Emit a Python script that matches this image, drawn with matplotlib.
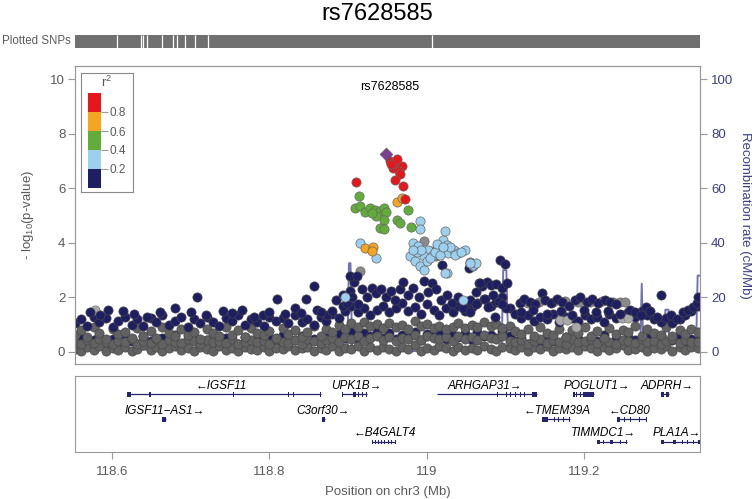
import numpy as np
import matplotlib
matplotlib.use('Agg')
import matplotlib.pyplot as plt

plt.rcParams['font.family'] = ['Liberation Sans', 'DejaVu Sans']
plt.rcParams['mathtext.default'] = 'regular'

lead_snp = 'rs7628585'
lead_pos, lead_logp = 118.948, 7.25

# dense background cloud: at each position the heights of the points seen there
base_x = [118.553, 118.561, 118.568, 118.577, 118.584, 118.592, 118.601, 118.608, 118.616, 118.625,
          118.632, 118.640, 118.649, 118.656, 118.664, 118.673, 118.680, 118.688, 118.697, 118.704,
          118.712, 118.721, 118.728, 118.736, 118.745, 118.752, 118.760, 118.769, 118.776, 118.784,
          118.793, 118.800, 118.808, 118.817, 118.824, 118.832, 118.841, 118.848, 118.856, 118.865,
          118.872, 118.880, 118.889, 118.896, 118.904, 118.913, 118.920, 118.928, 118.937, 118.944,
          118.952, 118.961, 118.968, 118.976, 118.985, 118.992, 119.000, 119.009, 119.016, 119.024,
          119.033, 119.040, 119.048, 119.057, 119.064, 119.072, 119.081, 119.088, 119.096, 119.105,
          119.112, 119.120, 119.129, 119.136, 119.144, 119.153, 119.160, 119.168, 119.177, 119.184,
          119.192, 119.201, 119.208, 119.216, 119.225, 119.232, 119.240, 119.249, 119.256, 119.264,
          119.273, 119.280, 119.288, 119.297, 119.304, 119.312, 119.321, 119.328, 119.336, 119.344]
gray_lo = [0.10, 0.04, 0.18, 0.07, 0.22, 0.03, 0.15, 0.09, 0.20, 0.05,
           0.12, 0.24, 0.06, 0.17, 0.02, 0.13, 0.21, 0.08, 0.16, 0.04,
           0.19, 0.11, 0.03, 0.23, 0.09, 0.14, 0.05, 0.20, 0.12, 0.07,
           0.18, 0.02, 0.15, 0.10, 0.22, 0.06, 0.13, 0.19, 0.04, 0.16,
           0.09, 0.21, 0.05, 0.14, 0.11, 0.23, 0.03, 0.17, 0.08, 0.20,
           0.12, 0.05, 0.18, 0.10, 0.24, 0.03, 0.15, 0.07, 0.21, 0.13,
           0.04, 0.19, 0.09, 0.16, 0.06, 0.22, 0.11, 0.02, 0.18, 0.14,
           0.08, 0.20, 0.05, 0.17, 0.12, 0.23, 0.03, 0.15, 0.10, 0.19,
           0.06, 0.21, 0.13, 0.04, 0.18, 0.09, 0.16, 0.24, 0.07, 0.12,
           0.20, 0.03, 0.14, 0.11, 0.22, 0.05, 0.17, 0.08, 0.19, 0.13]
gray_mid = [0.38, 0.30, 0.45, 0.33, 0.48, 0.36, 0.29, 0.42, 0.35, 0.47,
            0.31, 0.40, 0.34, 0.46, 0.28, 0.43, 0.37, 0.32, 0.49, 0.39,
            0.30, 0.44, 0.36, 0.41, 0.33, 0.47, 0.29, 0.38, 0.45, 0.35,
            0.42, 0.31, 0.48, 0.37, 0.34, 0.43, 0.30, 0.46, 0.39, 0.32,
            0.44, 0.50, 0.38, 0.55, 0.47, 0.60, 0.42, 0.52, 0.58, 0.45,
            0.56, 0.40, 0.53, 0.48, 0.61, 0.43, 0.57, 0.50, 0.46, 0.54,
            0.41, 0.59, 0.49, 0.55, 0.44, 0.62, 0.51, 0.47, 0.58, 0.42,
            0.36, 0.45, 0.31, 0.40, 0.47, 0.33, 0.43, 0.38, 0.29, 0.46,
            0.35, 0.41, 0.48, 0.32, 0.44, 0.37, 0.30, 0.45, 0.39, 0.34,
            0.47, 0.36, 0.42, 0.31, 0.40, 0.46, 0.33, 0.43, 0.38, 0.35]
gray_hi = [0.62, 0.80, 0.55, 0.90, 0.70, 0.48, 0.85, 0.66, 0.75, 0.52,
           0.88, 0.60, 0.78, 0.50, 0.92, 0.68, 0.57, 0.83, 0.64, 0.74,
           0.49, 0.86, 0.71, 0.58, 0.93, 0.63, 0.79, 0.54, 0.87, 0.69,
           0.61, 0.76, 0.51, 0.89, 0.67, 0.82, 0.56, 0.73, 0.94, 0.60,
           0.84, 0.72, 0.98, 0.85, 1.05, 0.90, 1.10, 0.95, 1.02, 0.88,
           1.08, 0.92, 1.00, 0.86, 1.12, 0.94, 1.04, 0.89, 0.97, 0.83,
           0.91, 1.06, 0.87, 0.99, 0.93, 1.10, 0.96, 1.02, 0.88, 0.95,
           0.78, 0.65, 0.84, 0.58, 0.90, 0.71, 0.62, 0.86, 0.55, 0.80,
           0.68, 0.92, 0.60, 0.77, 0.53, 0.88, 0.66, 0.81, 0.72, 0.94,
           0.59, 0.85, 0.70, 0.63, 0.91, 0.57, 0.79, 0.67, 0.86, 0.74]
navy_lo = [0.35, 0.52, 0.28, 0.45, 0.60, 0.32, 0.48, 0.25, 0.55, 0.40,
           0.30, 0.58, 0.42, 0.22, 0.50, 0.36, 0.62, 0.27, 0.46, 0.54,
           0.33, 0.44, 0.59, 0.24, 0.51, 0.38, 0.29, 0.56, 0.41, 0.47,
           0.26, 0.53, 0.37, 0.61, 0.31, 0.43, 0.57, 0.23, 0.49, 0.34,
           0.55, 0.40, 0.65, 0.50, 0.72, 0.45, 0.68, 0.58, 0.75, 0.52,
           0.70, 0.48, 0.63, 0.56, 0.74, 0.44, 0.66, 0.59, 0.71, 0.47,
           0.62, 0.54, 0.69, 0.43, 0.73, 0.57, 0.64, 0.50, 0.76, 0.60,
           0.39, 0.52, 0.28, 0.46, 0.35, 0.58, 0.42, 0.31, 0.55, 0.37,
           0.49, 0.26, 0.53, 0.40, 0.61, 0.33, 0.47, 0.29, 0.56, 0.44,
           0.38, 0.51, 0.27, 0.59, 0.34, 0.45, 0.62, 0.30, 0.48, 0.41]
navy_hi = [1.05, 1.20, 0.95, 1.30, 1.10, 1.25, 0.90, 1.15, 1.30, 1.00,
           1.20, 0.95, 1.25, 1.10, 1.35, 1.00, 1.15, 1.30, 0.90, 1.20,
           1.05, 1.30, 1.10, 0.95, 1.25, 1.15, 1.35, 1.00, 1.20, 1.10,
           0.95, 1.30, 1.15, 1.25, 1.05, 1.35, 1.10, 1.20, 1.00, 1.30,
           1.15, 1.40, 1.25, 1.50, 1.70, 1.45, 1.60, 1.35, 1.55, 1.70,
           1.45, 1.60, 1.80, 1.50, 1.65, 1.40, 1.75, 1.55, 1.35, 1.60,
           1.45, 1.70, 1.50, 1.65, 1.80, 1.95, 1.70, 1.85, 2.00, 1.60,
           1.40, 1.25, 1.35, 1.15, 1.30, 1.20, 1.40, 1.10, 1.30, 1.25,
           1.15, 1.35, 1.20, 1.30, 1.10, 1.40, 1.25, 1.35, 1.45, 1.30,
           1.50, 1.35, 1.20, 1.10, 1.25, 1.05, 1.20, 1.35, 1.50, 1.70]

# scattered points above the cloud, r2 < 0.2
navy_x = [118.572, 118.595, 118.614, 118.661, 118.680, 118.708, 118.741, 118.765, 118.792, 118.809,
          118.833, 118.847, 118.857, 118.860, 118.873, 118.894, 118.902, 118.907, 118.902, 118.585,
          118.628, 118.645, 118.700, 118.720, 118.752, 118.780, 118.800, 118.820, 118.840, 118.865,
          118.880, 118.885, 118.893, 118.898, 118.905, 118.912, 118.918, 118.924, 118.930, 118.936,
          118.942, 118.948, 118.955, 118.960, 118.966, 118.970, 118.976, 118.982, 118.990, 118.996,
          119.002, 119.006, 119.012, 119.018, 119.025, 119.032, 119.040, 119.048, 119.055, 119.062,
          119.066, 119.070, 119.076, 119.082, 119.088, 119.093, 119.099, 119.096, 119.102, 119.084,
          119.074, 119.092, 119.100, 119.046, 119.055, 119.062, 119.078, 119.087, 119.095, 119.118,
          119.124, 119.131, 119.138, 119.146, 119.150, 119.158, 119.165, 119.172, 119.180, 119.188,
          119.195, 119.203, 119.210, 119.218, 119.226, 119.233, 119.240, 119.120, 119.135, 119.152,
          119.170, 119.185, 119.200, 119.215, 119.230, 119.245, 119.258, 119.265, 119.272, 119.278,
          119.284, 119.298, 119.292, 119.310, 119.318, 119.326, 119.332, 119.338, 119.343, 119.345,
          119.019, 118.911, 119.053, 119.068]
navy_y = [1.48, 1.54, 1.51, 1.48, 1.60, 2.00, 1.51, 1.54, 1.36, 1.94,
          1.60, 1.94, 2.43, 1.54, 1.36, 1.67, 2.22, 2.58, 2.77, 1.35,
          1.40, 1.30, 1.45, 1.35, 1.42, 1.30, 1.45, 1.38, 1.42, 1.45,
          1.50, 1.90, 2.10, 1.80, 2.00, 1.75, 2.30, 2.00, 2.35, 2.15,
          2.30, 2.00, 2.25, 1.90, 2.30, 2.55, 2.10, 2.35, 2.00, 2.60,
          2.20, 2.52, 2.30, 1.90, 2.10, 1.80, 2.00, 1.70, 1.90, 2.20,
          2.52, 2.40, 2.55, 2.45, 2.50, 3.38, 3.24, 2.35, 2.52, 2.10,
          1.95, 1.85, 1.60, 1.60, 1.45, 1.75, 1.65, 1.30, 1.75, 1.80,
          1.95, 1.85, 1.75, 2.18, 1.90, 1.80, 1.95, 1.85, 1.70, 1.90,
          2.00, 1.85, 1.95, 1.80, 1.90, 1.85, 1.75, 1.45, 1.55, 1.40,
          1.50, 1.35, 1.55, 1.45, 1.50, 1.40, 1.55, 1.45, 1.35, 1.65,
          1.50, 2.10, 1.30, 1.35, 1.20, 1.45, 1.55, 1.65, 1.80, 2.03,
          3.20, 2.77, 3.07, 2.52]

# no LD information
gray_x = [119.128, 119.142, 119.160, 119.176, 119.192, 119.207, 119.222, 119.236, 119.246, 119.252,
          118.915, 118.996, 118.998, 119.005, 119.012, 119.055]
gray_y = [1.80, 1.85, 1.85, 1.88, 1.85, 1.82, 1.86, 1.84, 1.85, 1.85,
          2.98, 4.06, 3.60, 3.70, 3.50, 3.30]
ltgray_x = [118.578, 119.169, 119.178, 119.248, 119.256, 119.190]
ltgray_y = [1.54, 1.18, 1.18, 1.24, 1.24, 0.93]

# r2 0.2-0.4
lblue_x = [118.915, 118.935, 118.991, 118.991, 118.983, 118.989, 118.979, 118.985, 118.991, 118.996,
           119.002, 119.008, 119.015, 119.021, 119.023, 119.025, 119.027, 119.034, 119.040, 119.049,
           119.055, 119.059, 119.025, 118.996, 119.000, 118.987, 118.993, 119.004, 119.010, 119.013,
           119.017, 119.030, 119.036, 119.044, 118.982, 119.020, 119.058, 119.062, 118.896, 119.046,
           119.055, 119.023]
lblue_y = [4.00, 3.44, 4.79, 4.49, 4.00, 3.87, 3.50, 3.32, 3.14, 3.01,
           3.75, 3.57, 3.75, 4.12, 4.42, 3.93, 3.63, 3.75, 3.63, 3.75,
           3.26, 3.14, 2.89, 3.50, 3.32, 3.65, 3.75, 3.45, 3.65, 3.95,
           3.55, 3.85, 3.55, 3.65, 3.75, 3.85, 3.20, 3.25, 2.02, 1.91,
           3.26, 2.89]

# r2 0.4-0.6
green_x = [118.914, 118.909, 118.915, 118.921, 118.928, 118.934, 118.941, 118.945, 118.948, 118.936,
           118.945, 118.940, 118.946, 118.962, 118.966, 118.980, 118.976, 118.930]
green_y = [5.71, 5.28, 5.34, 5.12, 5.28, 5.22, 5.16, 5.28, 5.12, 4.97,
           4.85, 4.54, 4.52, 4.83, 4.71, 4.58, 5.22, 5.10]

# r2 0.6-0.8
orange_x = [118.962, 118.968, 118.921, 118.931, 118.930]
orange_y = [5.49, 5.65, 3.81, 3.85, 3.69]

# r2 0.8-1
red_x = [118.953, 118.960, 118.968, 118.957, 118.964, 118.966, 118.960, 118.970, 118.972, 118.910,
         118.962, 118.955]
red_y = [7.00, 6.94, 6.81, 6.75, 6.63, 6.51, 6.32, 6.08, 5.59, 6.24,
         7.06, 6.88]

# recombination rate (cM/Mb)
recomb_pos = [118.552, 118.600, 118.650, 118.700, 118.750, 118.800, 118.850, 118.899, 118.901, 118.903,
              118.905, 118.950, 119.000, 119.050, 119.095, 119.097, 119.101, 119.102, 119.104, 119.150,
              119.200, 119.250, 119.271, 119.273, 119.275, 119.302, 119.303, 119.307, 119.308, 119.342,
              119.344, 119.348]
recomb_rate = [0.5, 1.2, 0.8, 1.5, 0.6, 1.0, 1.4, 1.0, 32.5, 32.5,
               1.2, 0.4, 0.3, 0.8, 1.0, 30.0, 30.0, 17.0, 1.0, 0.6,
               1.2, 1.5, 1.0, 25.0, 1.0, 1.2, 15.5, 15.5, 1.0, 1.5,
               28.0, 28.0]

# gaps in the plotted SNPs rug
rug_gaps = [118.606, 118.637, 118.639, 118.644, 118.663, 118.678, 118.683, 118.693, 118.705, 118.722, 119.007]

# genes
gene_names = ['IGSF11', 'UPK1B', 'ARHGAP31', 'POGLUT1', 'ADPRH',
              'IGSF11\u2212AS1', 'C3orf30', 'TMEM39A', 'CD80',
              'B4GALT4', 'TIMMDC1', 'PLA1A']
gene_start = [118.621, 118.892, 119.013, 119.186, 119.298, 118.664, 118.867, 119.146, 119.241, 118.930, 119.216, 119.298]
gene_end = [118.865, 118.924, 119.140, 119.212, 119.307, 118.669, 118.871, 119.182, 119.279, 118.960, 119.254, 119.347]
gene_strand = ['-', '+', '+', '+', '+', '+', '+', '-', '-', '-', '+', '+']
gene_row = [0, 0, 0, 0, 0, 1, 1, 1, 1, 2, 2, 2]
gene_label_x = [118.739, 118.910, 119.074, 119.216, 119.305, 118.667, 118.868, 119.165, 119.258, 118.947, 119.224, 119.318]
gene_exons = [
    [(118.619, 118.624), (118.647, 118.649), (118.754, 118.755), (118.824, 118.825), (118.830, 118.831), (118.864, 118.865)],
    [(118.892, 118.893), (118.906, 118.910), (118.913, 118.914), (118.918, 118.919), (118.923, 118.924)],
    [(119.086, 119.087), (119.089, 119.090), (119.100, 119.102), (119.106, 119.107), (119.112, 119.113),
     (119.118, 119.119), (119.124, 119.125), (119.133, 119.140)],
    [(119.186, 119.188), (119.190, 119.191), (119.195, 119.196), (119.198, 119.212)],
    [(119.298, 119.301), (119.304, 119.307)],
    [(118.664, 118.669)],
    [(118.867, 118.871)],
    [(119.146, 119.154), (119.161, 119.162), (119.167, 119.168), (119.173, 119.174), (119.180, 119.182)],
    [(119.241, 119.245), (119.251, 119.252), (119.258, 119.259), (119.269, 119.270), (119.278, 119.279)],
    [(118.930, 118.931), (118.934, 118.935), (118.938, 118.939), (118.942, 118.943), (118.946, 118.947),
     (118.951, 118.952), (118.955, 118.956), (118.959, 118.960)],
    [(119.216, 119.220), (119.224, 119.225), (119.233, 119.237), (119.246, 119.247), (119.253, 119.254)],
    [(119.298, 119.301), (119.313, 119.317), (119.324, 119.325), (119.330, 119.331), (119.338, 119.339), (119.345, 119.347)],
]

ld_bins = [0.0, 0.2, 0.4, 0.6, 0.8]
ld_colors = ['#1e1e63', '#9dcfee', '#62ad3a', '#f5a520', '#e5171d']
gray_col = '#626262'
ltgray_col = '#a9a9a9'
lead_col = '#7b3f98'
gene_col = '#25256e'
text_gray = '#5a5a5a'
axis_gray = '#9a9a9a'
recomb_col = '#6464aa'

XMIN, XMAX = 118.553, 119.347
W, H = 755, 499


def rect(x0, y0, x1, y1):
    return [x0 / W, 1 - y1 / H, (x1 - x0) / W, (y1 - y0) / H]


fig = plt.figure(figsize=(W / 100, H / 100), dpi=100)
fig.text(0.5, 1 - 14 / H, lead_snp, ha='center', va='center', fontsize=17)

# plotted SNPs rug
sax = fig.add_axes(rect(75, 35, 700, 48))
sax.axvspan(XMIN, XMAX, color='#707070', lw=0)
sax.vlines(rug_gaps, 0, 1, color='white', lw=0.9)
sax.set_xlim(XMIN, XMAX)
sax.set_ylim(0, 1)
sax.axis('off')
fig.text(71 / W, 1 - 41.5 / H, 'Plotted SNPs', ha='right', va='center', fontsize=8.3, color=text_gray)

# association panel
ax = fig.add_axes(rect(75, 66, 700, 364))
ax2 = ax.twinx()
ax.set_zorder(ax2.get_zorder() + 1)
ax.patch.set_visible(False)

ax2.plot(recomb_pos, recomb_rate, color=recomb_col, lw=1.4, alpha=0.9)

pt = dict(s=44, linewidths=0.5)
ax.scatter(base_x, navy_lo, c=ld_colors[0], edgecolors='#444444', **pt)
ax.scatter(base_x, gray_lo, c=gray_col, edgecolors='#4a4a4a', **pt)
ax.scatter(base_x, gray_mid, c=gray_col, edgecolors='#4a4a4a', **pt)
ax.scatter(base_x, gray_hi, c=gray_col, edgecolors='#4a4a4a', **pt)
ax.scatter(base_x, navy_hi, c=ld_colors[0], edgecolors='#444444', **pt)
ax.scatter(ltgray_x, ltgray_y, c=ltgray_col, edgecolors='#777777', **pt)
ax.scatter(gray_x, gray_y, c='#8a8a8a', edgecolors='#666666', **pt)
ax.scatter(navy_x, navy_y, c=ld_colors[0], edgecolors='#444444', **pt)
ax.scatter(lblue_x, lblue_y, c=ld_colors[1], edgecolors='#666666', **pt)
ax.scatter(green_x, green_y, c=ld_colors[2], edgecolors='#666666', **pt)
ax.scatter(orange_x, orange_y, c=ld_colors[3], edgecolors='#666666', **pt)
ax.scatter(red_x, red_y, c=ld_colors[4], edgecolors='#666666', **pt)
ax.scatter([lead_pos], [lead_logp], marker='D', s=42, c=lead_col, edgecolors='#555555', linewidths=0.5)
ax.text(118.953, 9.7, lead_snp, ha='center', va='center', fontsize=9)

ax.set_xlim(XMIN, XMAX)
ax.set_ylim(-0.44, 10.48)
ax.set_xticks([])
ax.set_yticks([0, 2, 4, 6, 8, 10])
ax.tick_params(axis='y', direction='out', length=5, width=0.8, color=axis_gray,
               labelcolor=text_gray, labelsize=9.5, pad=2)
ax.set_ylabel('- log$_{10}$(p-value)', color=text_gray, fontsize=9.5)
ax.yaxis.set_label_coords(-0.062, 0.5)

ax2.set_ylim(-4.4, 104.8)
ax2.set_yticks([0, 20, 40, 60, 80, 100])
ax2.tick_params(axis='y', direction='out', length=5, width=0.8, color=axis_gray,
                labelcolor='#3c3c8c', labelsize=9.5, pad=3)
ax2.set_ylabel('Recombination rate (cM/Mb)', color='#3c3c8c', fontsize=9.5, rotation=270, va='bottom')
for a in (ax, ax2):
    for sp in a.spines.values():
        sp.set_color(axis_gray)
        sp.set_linewidth(0.8)

# r2 legend
lbox = fig.add_axes(rect(81, 73, 133, 192))
lbox.set_xticks([])
lbox.set_yticks([])
for sp in lbox.spines.values():
    sp.set_color('#8a8a8a')
    sp.set_linewidth(0.8)
lbox.text(0.5, 0.92, 'r$^2$', ha='center', va='center', fontsize=9.5, color=text_gray,
          transform=lbox.transAxes)
lax = fig.add_axes(rect(88, 93, 101, 188))
lax.bar(0, 0.2, bottom=ld_bins, color=ld_colors, width=1, align='edge')
lax.set_xlim(0, 1)
lax.set_ylim(0, 1)
lax.set_xticks([])
lax.yaxis.tick_right()
lax.set_yticks([0.2, 0.4, 0.6, 0.8])
lax.set_yticklabels(['0.2', '0.4', '0.6', '0.8'])
lax.tick_params(axis='y', direction='out', length=5, width=0.8, color=axis_gray,
                labelcolor=text_gray, labelsize=8.5, pad=1)
for sp in lax.spines.values():
    sp.set_visible(False)

# gene panel
gax = fig.add_axes(rect(75, 376, 700, 452))
row_y = [57.7, 32.7, 10.3]
for i, name in enumerate(gene_names):
    y = row_y[gene_row[i]]
    gax.plot([gene_start[i], gene_end[i]], [y, y], color=gene_col, lw=0.9, solid_capstyle='butt')
    for e0, e1 in gene_exons[i]:
        gax.add_patch(plt.Rectangle((e0, y - 2.2), max(e1 - e0, 0.0012), 4.4, color=gene_col, lw=0))
    label = '\u2190' + name if gene_strand[i] == '-' else name + '\u2192'
    gax.text(gene_label_x[i], y + 8.3, label, ha='center', va='center', fontsize=8.5, style='italic')
gax.set_xlim(XMIN, XMAX)
gax.set_ylim(0, 76)
gax.set_yticks([])
gax.set_xticks([118.6, 118.8, 119.0, 119.2])
gax.set_xticklabels(['118.6', '118.8', '119', '119.2'])
gax.tick_params(axis='x', direction='out', length=5, width=0.8, color=axis_gray,
                labelcolor=text_gray, labelsize=9.5, pad=5)
gax.set_xlabel('Position on chr3 (Mb)', color=text_gray, fontsize=9.5, labelpad=6)
for sp in gax.spines.values():
    sp.set_color(axis_gray)
    sp.set_linewidth(0.8)

fig.savefig('out.png', dpi=100)
